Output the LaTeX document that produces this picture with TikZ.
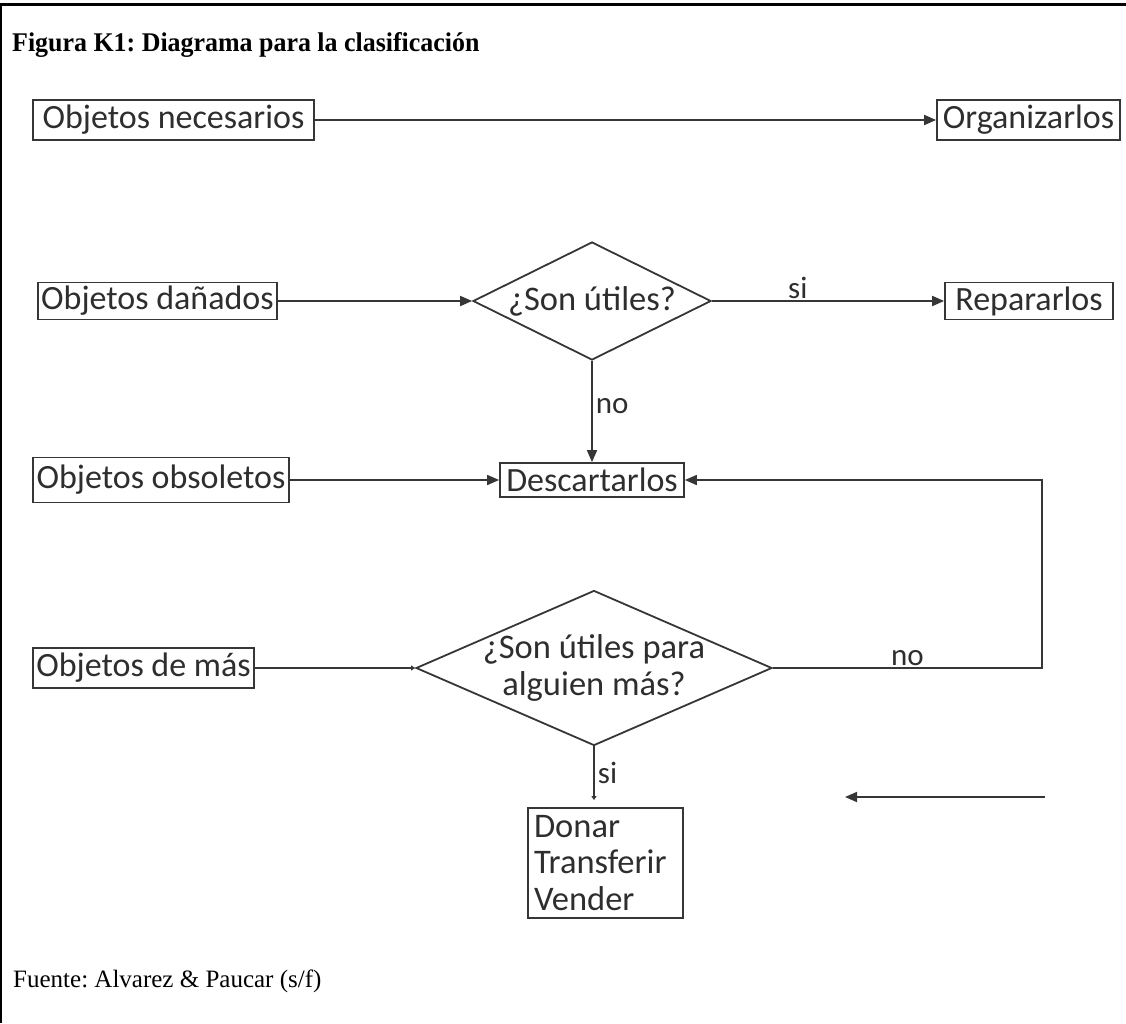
\documentclass[tikz,border=0pt]{standalone}
\usepackage{fontspec}
\setmainfont{Liberation Serif}
\newfontfamily\calfont{Carlito}
\usetikzlibrary{arrows.meta,shapes.geometric}
\definecolor{ink}{HTML}{2E2E2E}
\definecolor{ln}{HTML}{363636}
\frenchspacing
\tikzset{
  box/.style={draw=ln,line width=1.8pt,inner sep=0pt,font=\calfont\fontsize{34}{37}\selectfont,text=ink},
  diam/.style={draw=ln,line width=1.8pt,shape=diamond,inner sep=0pt},
  dtext/.style={font=\calfont\fontsize{34.5}{37}\selectfont,text=ink,align=center},
  lbl/.style={font=\calfont\fontsize{31}{34}\selectfont,text=ink},
  conn/.style={draw=ln,line width=1.8pt},
  arr/.style={conn,-{Triangle[length=12pt,width=10pt]}},
  tiny/.style={conn,-{Triangle[length=4pt,width=5pt]}},
}
\begin{document}
\begin{tikzpicture}[x=1pt,y=-1pt]
\useasboundingbox (0,0) rectangle (1126,1023);
% frame
\draw[line width=3pt] (0,4) -- (1126,4);
\draw[line width=2.5pt] (1.2,4) -- (1.2,1023);
% title and source
\node[anchor=base west,inner sep=0pt,font=\bfseries\fontsize{27}{30}\selectfont] (title) at (12,51) {\scalebox{0.96}[1]{Figura K1: Diagrama para la clasificación}};
\node[anchor=base west,inner sep=0pt,font=\fontsize{25}{28}\selectfont] (src) at (13,987) {Fuente: Alvarez \& Paucar (s/f)};
% boxes
\node[box,minimum width=281pt,minimum height=40pt] (nec) at (173.5,120) {Objetos necesarios};
\node[box,minimum width=183pt,minimum height=40pt] (org) at (1028.5,120) {Organizarlos};
\node[box,minimum width=239pt,minimum height=37pt] (dan) at (157.5,301) {Objetos dañados};
\node[box,minimum width=168pt,minimum height=37pt] (rep) at (1029,301) {Repararlos};
\node[box,minimum width=256pt,minimum height=45pt] (obs) at (161,480) {Objetos obsoletos};
\node[box,minimum width=184pt,minimum height=34pt] (desc) at (592,480) {Descartarlos};
\node[box,minimum width=221pt,minimum height=40pt] (mas) at (143.5,668) {Objetos de más};
\node[box,inner xsep=6pt,text width=143pt,minimum height=110pt,align=left,font=\calfont\fontsize{34.5}{36.5}\selectfont] (don) at (605.5,863) {Donar\\Transferir\\Vender};
% diamonds
\node[diam,minimum width=238pt,minimum height=118pt] (d1) at (592,301) {};
\node[dtext] (d1t) at (d1.center) {¿Son útiles?};
\node[diam,minimum width=356pt,minimum height=155pt] (d2) at (594,668) {};
\node[dtext] (d2t) at (d2.center) {¿Son útiles para\\alguien más?};
% connectors
\draw[arr] (nec.east) -- (org.west);
\draw[arr] (dan.east) -- (d1.west);
\draw[arr] (d1.east) -- node[lbl,above,pos=0.37,inner sep=1pt] {si} (rep.west);
\draw[arr] (d1.south) -- node[lbl,right,pos=0.45,inner sep=3pt] {no} (desc.north);
\draw[arr] (obs.east) -- (desc.west);
\coordinate (rc) at (1042,668);
\draw[arr] (d2.east) -- node[lbl,above,pos=0.5,inner sep=1pt] {no} (rc) |- (desc.east);
\draw[tiny] (mas.east) -- (d2.west);
\coordinate (sitip) at ([yshift=7pt]d2.south |- don.north);
\draw[tiny] (d2.south) -- node[lbl,right,pos=0.5,inner sep=3pt] {si} (sitip);
\coordinate (sa) at (1045,797);
\coordinate (sb) at (845,797);
\draw[arr] (sa) -- (sb);
\end{tikzpicture}
\end{document}
